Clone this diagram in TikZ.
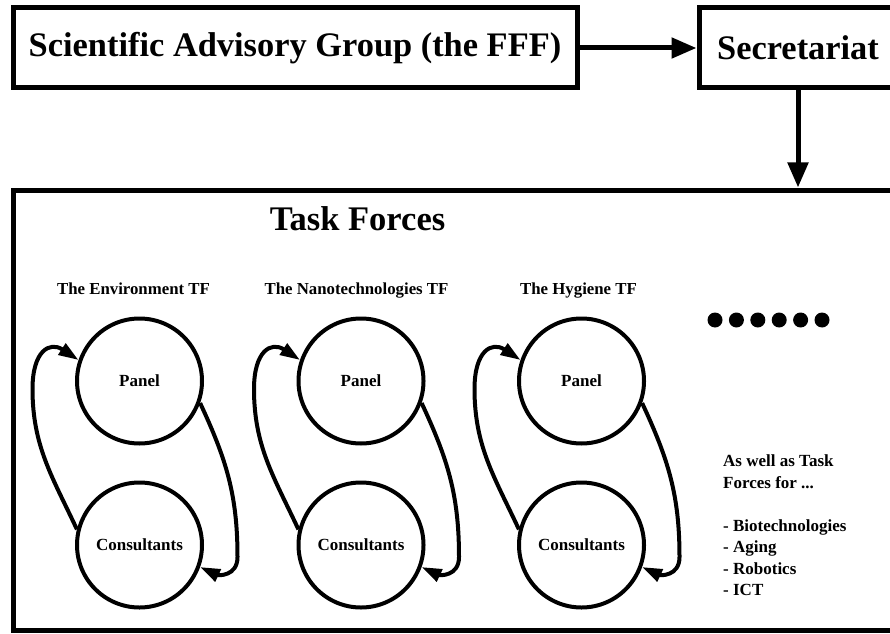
\documentclass[tikz,border=0pt]{standalone}
\usepackage{fontspec}
\setmainfont{Liberation Serif}
\usetikzlibrary{arrows.meta,calc}
\begin{document}
\begin{tikzpicture}[x=1pt,y=1pt,
  bigbox/.style={draw, line width=5pt, rectangle, inner sep=0pt, font=\fontsize{34.4}{40}\selectfont\bfseries},
  ring/.style={draw, circle, line width=4pt, minimum size=125pt, inner sep=0pt, font=\fontsize{17}{20}\selectfont\bfseries},
  mainarrow/.style={line width=5pt, -{Triangle[length=25pt,width=20pt]}},
  looparrow/.style={line width=4pt, -{Triangle[length=20pt,width=13pt]}},
  tflabel/.style={font=\fontsize{16.8}{20}\selectfont\bfseries, anchor=base, inner sep=0pt},
  dotmark/.style={fill=black},
  sidetext/.style={font=\fontsize{17}{21.5}\selectfont\bfseries, align=left, anchor=north west, inner sep=0pt}
]
\useasboundingbox (0,0) rectangle (890,633);
\clip (0,0) rectangle (890,633);
\fill[white] (0,0) rectangle (890,633);

% top boxes
\node[bigbox, minimum width=564pt, minimum height=80pt] (sag) at (295,585) {Scientific Advisory Group (the FFF)};
\node[bigbox, minimum width=198pt, minimum height=80pt] (sec) at (798,585) {Secretariat};
\draw[mainarrow] (sag) -- (sec);

% task forces box
\node[draw, line width=5pt, rectangle, inner sep=0pt, minimum width=884pt, minimum height=440.5pt] (tf) at (455,222.75) {};
\node[font=\fontsize{34.5}{40}\selectfont\bfseries, anchor=base, inner sep=0pt] (tftitle) at (357.5,403) {Task Forces};
\draw[mainarrow] (sec.south) -- (sec.south |- tf.north);

% the three task forces
\foreach \i/\cx/\lx/\txt in {1/139.5/133.5/The Environment TF, 2/361/356.5/The Nanotechnologies TF, 3/581.5/578.5/The Hygiene TF} {
  \node[ring] (P\i) at (\cx,252) {Panel};
  \node[ring] (C\i) at (\cx,88) {Consultants};
  \node[tflabel] (L\i) at (\lx,339) {\txt};
  \draw[looparrow] (C\i.166) to[out=115,in=-90] ($(P\i)+(-107,-8)$)
     .. controls +(0,38) and ($(P\i)+(-90,40)$) .. (P\i.161);
  \draw[looparrow] (P\i.-20) to[out=-65,in=90] ($(C\i)+(98,-12)$)
     to[out=-90,in=-25,looseness=1.3] (C\i.-20);
}

% ellipsis dots
\foreach \k in {0,...,5} {
  \fill[dotmark] (715+21.4*\k,313) circle (7.5pt);
}

% side text
\node[sidetext] (more) at (723,178.5) {As well as Task\\Forces for ...\\[21.5pt]- Biotechnologies\\- Aging\\- Robotics\\- ICT};
\end{tikzpicture}
\end{document}
